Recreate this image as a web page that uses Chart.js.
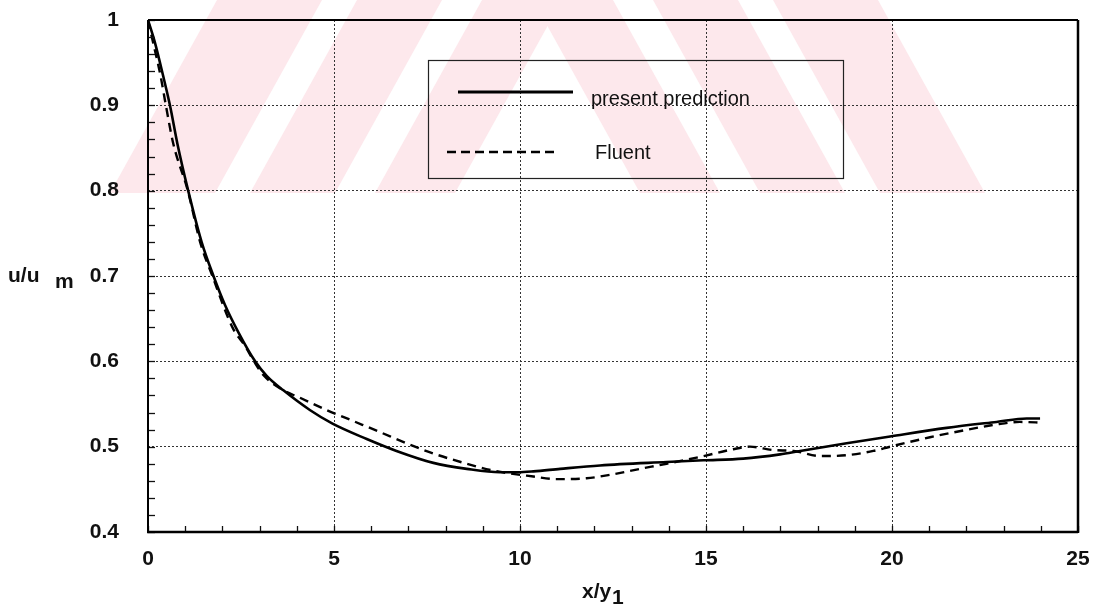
<!DOCTYPE html>
<html><head><meta charset="utf-8">
<script src="https://cdn.jsdelivr.net/npm/chart.js@4.4.0/dist/chart.umd.min.js"></script>
<style>html,body{margin:0;padding:0;background:#fff;}#wrap{width:1095px;height:615px;position:relative;}</style>
</head><body><div id="wrap"><canvas id="c" width="1095" height="615"></canvas></div>
<script>
// ---- data ----
const predX = [0, 0.19, 0.41, 0.59, 0.79, 1.08, 1.44, 1.76, 2.07, 2.43, 2.88, 3.19, 3.64, 4.35, 4.96, 5.88, 6.68, 7.67, 8.57, 9.46, 9.94, 10.36, 11.08, 12.15, 13.94, 14.93, 16.0, 16.99, 17.53, 18.78, 19.95, 21.47, 22.81, 23.62, 23.98];
const predY = [1.0, 0.973, 0.934, 0.90, 0.855, 0.80, 0.740, 0.70, 0.666, 0.634, 0.60, 0.583, 0.566, 0.543, 0.527, 0.509, 0.495, 0.481, 0.474, 0.470, 0.470, 0.471, 0.474, 0.478, 0.482, 0.484, 0.486, 0.491, 0.495, 0.504, 0.512, 0.522, 0.529, 0.533, 0.533];
const fluentX = [0, 0.14, 0.34, 0.48, 0.68, 1.07, 1.40, 1.73, 2.29, 2.61, 2.85, 3.10, 3.64, 4.05, 4.80, 5.52, 6.24, 6.95, 7.67, 8.57, 9.28, 10.36, 10.98, 11.79, 12.42, 13.23, 13.94, 14.84, 15.73, 16.18, 16.81, 17.35, 18.06, 18.78, 19.50, 19.95, 21.02, 21.92, 22.81, 23.44, 24.07];
const fluentY = [1.0, 0.973, 0.934, 0.90, 0.855, 0.80, 0.740, 0.70, 0.638, 0.618, 0.60, 0.584, 0.566, 0.558, 0.543, 0.530, 0.517, 0.504, 0.492, 0.480, 0.472, 0.465, 0.462, 0.463, 0.467, 0.474, 0.480, 0.488, 0.497, 0.500, 0.496, 0.495, 0.489, 0.490, 0.495, 0.500, 0.511, 0.519, 0.526, 0.529, 0.528];
const xTicks = [0, 5, 10, 15, 20, 25];
const yTicks = [0.4, 0.5, 0.6, 0.7, 0.8, 0.9, 1];
const seriesNames = ['present prediction', 'Fluent'];
const xMinorStep = 1;
const yMinorStep = 0.02;

const FONT = "'Liberation Sans', Arial, sans-serif";

const toPts = (xs, ys) => xs.map((x, i) => ({x: x, y: ys[i]}));

const watermark = {
  id: 'watermark',
  beforeDraw(chart) {
    const ctx = chart.ctx;
    ctx.save();
    ctx.fillStyle = '#ffffff';
    ctx.fillRect(0, 0, chart.width, chart.height);
    ctx.beginPath();
    ctx.rect(0, 0, chart.width, 193);
    ctx.clip();
    ctx.fillStyle = '#fde8ec';
    const H = 193, dx = 107;
    const leftBands = [[110, 215], [250, 335], [375, 455]];
    leftBands.forEach(([a, b]) => {
      ctx.beginPath();
      ctx.moveTo(a, H); ctx.lineTo(b, H); ctx.lineTo(b + dx, 0); ctx.lineTo(a + dx, 0); ctx.closePath(); ctx.fill();
    });
    const rightBands = [[640, 720], [760, 845], [880, 985]];
    rightBands.forEach(([a, b]) => {
      ctx.beginPath();
      ctx.moveTo(a, H); ctx.lineTo(b, H); ctx.lineTo(b - dx, 0); ctx.lineTo(a - dx, 0); ctx.closePath(); ctx.fill();
    });
    ctx.restore();
  }
};

const decorations = {
  id: 'decorations',
  afterDatasetsDraw(chart) {
    const ctx = chart.ctx;
    const xs = chart.scales.x, ys = chart.scales.y;
    const a = chart.chartArea;
    ctx.save();
    ctx.strokeStyle = '#111';
    ctx.lineWidth = 1.3;
    for (let v = xs.min; v <= xs.max + 1e-9; v += xMinorStep) {
      const px = Math.round(xs.getPixelForValue(v)) + 0.5;
      ctx.beginPath(); ctx.moveTo(px, a.bottom); ctx.lineTo(px, a.bottom - 6); ctx.stroke();
    }
    for (let v = ys.min; v <= ys.max + 1e-9; v += yMinorStep) {
      const py = Math.round(ys.getPixelForValue(v)) + 0.5;
      ctx.beginPath(); ctx.moveTo(a.left, py); ctx.lineTo(a.left + 7, py); ctx.stroke();
    }
    ctx.strokeStyle = '#000';
    ctx.lineWidth = 2;
    ctx.beginPath(); ctx.moveTo(a.left, a.top); ctx.lineTo(a.right, a.top); ctx.stroke();
    ctx.beginPath(); ctx.moveTo(a.left, a.top); ctx.lineTo(a.left, a.bottom); ctx.stroke();
    ctx.lineWidth = 2.5;
    ctx.beginPath(); ctx.moveTo(a.left - 1, a.bottom); ctx.lineTo(a.right, a.bottom); ctx.stroke();
    ctx.beginPath(); ctx.moveTo(a.right, a.top); ctx.lineTo(a.right, a.bottom + 1); ctx.stroke();

    ctx.lineWidth = 1.2;
    ctx.strokeStyle = '#222';
    ctx.strokeRect(428.5, 60.5, 415, 118);
    const ds = chart.data.datasets;
    ctx.strokeStyle = ds[0].borderColor;
    ctx.lineWidth = 3;
    ctx.beginPath(); ctx.moveTo(458, 92); ctx.lineTo(573, 92); ctx.stroke();
    ctx.setLineDash([9, 5]);
    ctx.lineWidth = 2.5;
    ctx.strokeStyle = ds[1].borderColor;
    ctx.beginPath(); ctx.moveTo(447, 152); ctx.lineTo(557, 152); ctx.stroke();
    ctx.setLineDash([]);
    ctx.fillStyle = '#111';
    ctx.font = '20px ' + FONT;
    ctx.textBaseline = 'middle';
    ctx.textAlign = 'left';
    ctx.fillText(ds[0].label, 591, 99);
    ctx.fillText(ds[1].label, 595, 153);

    ctx.font = 'bold 21px ' + FONT;
    ctx.fillText('u/u', 8, 276);
    ctx.fillText('m', 55, 282);
    ctx.fillText('x/y', 582, 592);
    ctx.fillText('1', 612, 598);
    ctx.restore();
  }
};

new Chart(document.getElementById('c'), {
  type: 'line',
  data: {
    datasets: [
      {label: seriesNames[0], data: toPts(predX, predY), borderColor: '#000', borderWidth: 2.6, pointRadius: 0, cubicInterpolationMode: 'monotone', fill: false},
      {label: seriesNames[1], data: toPts(fluentX, fluentY), borderColor: '#000', borderWidth: 2.4, borderDash: [9, 6], pointRadius: 0, cubicInterpolationMode: 'monotone', fill: false}
    ]
  },
  options: {
    responsive: false,
    animation: false,
    devicePixelRatio: 1,
    layout: {padding: {left: 0, top: 20, right: 17, bottom: 0}},
    plugins: {legend: {display: false}, tooltip: {enabled: false}},
    scales: {
      x: {
        type: 'linear', min: 0, max: 25,
        afterBuildTicks: s => { s.ticks = xTicks.map(v => ({value: v})); },
        afterFit: s => { s.height = 83; s.paddingLeft = 0; s.paddingRight = 0; },
        ticks: {color: '#111', font: {family: FONT, size: 21, weight: 'bold'}, padding: 15, maxRotation: 0, callback: v => String(v)},
        grid: {color: '#333', lineWidth: 1, drawTicks: false},
        border: {display: false, dash: [2, 2]}
      },
      y: {
        type: 'linear', min: 0.4, max: 1,
        afterBuildTicks: s => { s.ticks = yTicks.map(v => ({value: v})); },
        afterFit: s => { s.width = 148; s.paddingTop = 0; s.paddingBottom = 0; },
        ticks: {color: '#111', font: {family: FONT, size: 21, weight: 'bold'}, padding: 29, callback: v => String(Math.round(v * 10) / 10)},
        grid: {color: '#333', lineWidth: 1, drawTicks: false},
        border: {display: false, dash: [2, 2]}
      }
    }
  },
  plugins: [watermark, decorations]
});
</script>
</body></html>
